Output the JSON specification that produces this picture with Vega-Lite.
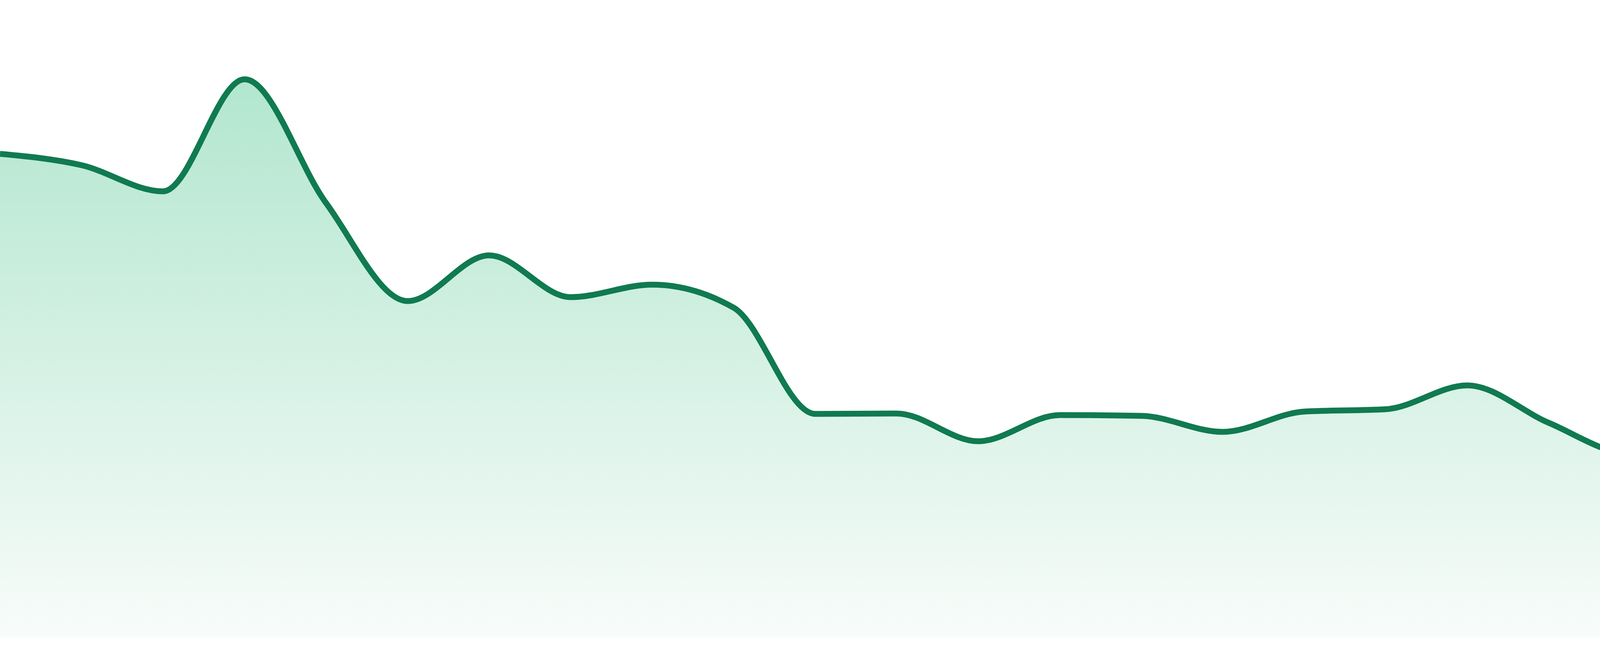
{
  "$schema": "https://vega.github.io/schema/vega-lite/v6.json",
  "width": 4800,
  "height": 1632,
  "autosize": {"type": "none"},
  "padding": {"left": 0, "right": 0, "top": 0, "bottom": 48},
  "background": "#ffffff",
  "data": {
    "values": [
      {"t": 0, "value": 1238},
      {"t": 1, "value": 1209},
      {"t": 2, "value": 1142},
      {"t": 3, "value": 1429},
      {"t": 4, "value": 1112},
      {"t": 5, "value": 861},
      {"t": 6, "value": 978},
      {"t": 7, "value": 871},
      {"t": 8, "value": 903},
      {"t": 9, "value": 844},
      {"t": 10, "value": 572},
      {"t": 11, "value": 573},
      {"t": 12, "value": 502},
      {"t": 13, "value": 569},
      {"t": 14, "value": 567},
      {"t": 15, "value": 526},
      {"t": 16, "value": 578},
      {"t": 17, "value": 584},
      {"t": 18, "value": 645},
      {"t": 19, "value": 549},
      {"t": 20, "value": 470},
      {"t": 21, "value": 501},
      {"t": 22, "value": 551},
      {"t": 23, "value": 554}
    ]
  },
  "encoding": {
    "x": {
      "field": "t",
      "type": "quantitative",
      "scale": {"domain": [0, 23], "nice": false, "zero": false},
      "axis": null
    },
    "y": {
      "field": "value",
      "type": "quantitative",
      "scale": {"domain": [0, 1632], "nice": false},
      "axis": null
    }
  },
  "layer": [
    {
      "mark": {
        "type": "area",
        "interpolate": "monotone",
        "fill": {
          "gradient": "linear",
          "x1": 0,
          "y1": 0,
          "x2": 0,
          "y2": 1,
          "stops": [
            {"offset": 0, "color": "#b2e6cf"},
            {"offset": 1, "color": "#f8fcfa"}
          ]
        }
      }
    },
    {
      "mark": {
        "type": "line",
        "interpolate": "monotone",
        "color": "#107a50",
        "strokeWidth": 15
      }
    }
  ],
  "config": {"view": {"stroke": null}}
}
